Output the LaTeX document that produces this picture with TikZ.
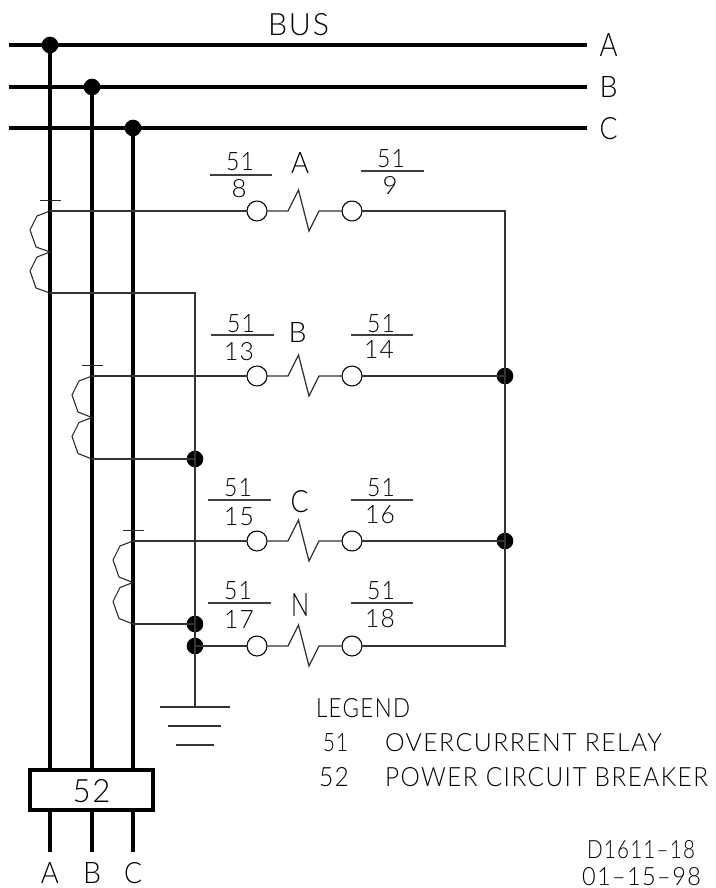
\documentclass[tikz,border=0pt]{standalone}
\usepackage{fontspec}
\usepackage{graphicx}
\newfontfamily\cadfont[LetterSpace=6]{Lato Light}
\newdimen\pxu
\pxu=0.75pt
\newcommand{\tx}[3]{\resizebox{#1\pxu}{#2\pxu}{#3}}
\begin{document}
\begin{tikzpicture}[x=0.75pt,y=-0.75pt,
  every node/.style={inner sep=0pt,outer sep=0pt},
  heavy/.style={line width=3.7pt,black},
  thin wire/.style={line width=0.95pt,black!80},
  terminal/.style={circle,draw=black,line width=0.8pt,fill=white,minimum size=15pt},
  dotnode/.style={circle,fill=black,minimum size=12.5pt},
  lab/.style={font=\cadfont\fontsize{23}{23}\selectfont,text=black,anchor=base},
  labl/.style={lab,anchor=base west},
  fracbar/.style={line width=0.85pt,black!75}]
\useasboundingbox (0,0) rectangle (715,888);
% bus bars
\foreach \n/\y/\x in {A/45/50,B/87/92,C/128/133}{
  \coordinate (bus\n w) at (9,\y);
  \coordinate (bus\n e) at (587,\y);
  \coordinate (drop\n) at (\x,852);
  \coordinate (top\n) at (\x,769);
  \coordinate (bot\n) at (\x,811);
  \node[dotnode] (tap\n) at (\x,\y) {};
  \draw[heavy] (bus\n w) -- (bus\n e);
  \draw[heavy] (tap\n.center) -- (top\n);
  \draw[heavy] (bot\n) -- (drop\n);
  \node[lab] at (\x,883) {\tx{18}{21}{\n}};
}
\node[lab] at (608.5,57) {\tx{18}{23}{A}};
\node[lab] at (608.5,98) {\tx{18}{21}{B}};
\node[lab] at (608.5,140) {\tx{18}{22}{C}};
\node[lab] at (298.5,36) {\tx{61}{22}{BUS}};
% breaker
\node[draw=black,line width=2.9pt,fill=white,minimum width=92pt,minimum height=30.5pt] (brk) at (91.5,790) {};
\node[lab] at (91.5,802) {\tx{38}{23}{52}};
% relay rows
\newcommand{\relayrow}[3]{% name, y, x of left
  \coordinate (l#1) at (#3,#2);
  \node[terminal] (t#1) at (257,#2) {};
  \node[terminal] (u#1) at (352,#2) {};
  \draw[thin wire] (t#1.east) -- (288,#2) -- (298.5,#2-21) -- (309,#2+20) -- (319,#2) -- (u#1.west);
}
\relayrow{a}{211}{50}
\relayrow{b}{376}{92}
\relayrow{c}{541}{133}
\relayrow{n}{646}{195}
% current transformers
\newcommand{\ctcoil}[4]{% x, top y, bottom y, name
  \coordinate (ctt#4) at (#1,#2);
  \coordinate (ctm#4) at (#1,{(#2+#3)/2});
  \coordinate (ctb#4) at (#1,#3);
  \draw[line width=0.8pt,black!85] (ctt#4) -- ++(-13,5) -- ++(-7,14) -- ++(6,17) -- (ctm#4) -- ++(-13,5) -- ++(-7,14) -- ++(6,17) -- (ctb#4);
  \draw[line width=0.8pt,black!85] (#1-10.5,#2-10.5) -- (#1+10.5,#2-10.5);
}
\ctcoil{50}{211}{293}{a}
\ctcoil{92}{376}{459}{b}
\ctcoil{133}{541}{624}{c}
% secondary wiring
\coordinate (neutTop) at (195,293);
\coordinate (gnd) at (195,707);
\coordinate (retTop) at (505,211);
\coordinate (retBot) at (505,646);
\node[dotnode] (jb) at (195,459) {};
\node[dotnode] (jc) at (195,624) {};
\node[dotnode] (jn) at (195,646) {};
\node[dotnode] (r1) at (505,376) {};
\node[dotnode] (r2) at (505,541) {};
\draw[thin wire] (ctta) -- (ta.west);
\draw[thin wire] (cttb) -- (tb.west);
\draw[thin wire] (cttc) -- (tc.west);
\draw[thin wire] (jn.center) -- (tn.west);
\draw[thin wire] (ctba) -- (neutTop) -- (gnd);
\draw[thin wire] (ctbb) -- (jb.center);
\draw[thin wire] (ctbc) -- (jc.center);
\draw[thin wire] (ua.east) -- (retTop) -- (retBot) -- (un.east);
\draw[thin wire] (ub.east) -- (r1.center);
\draw[thin wire] (uc.east) -- (r2.center);
% ground
\draw[thin wire] (160,707) -- (230,707);
\draw[thin wire] (168,726) -- (221,726);
\draw[thin wire] (176,745) -- (214,745);
% relay labels
\newcommand{\frlab}[8]{% xleft, xright, ybar, top cx, top base, bottom cx, bottom base, bottom text
  \draw[fracbar] (#1,#3) -- (#2,#3);
  \node[lab] at (#4,#5) {\tx{28}{18}{51}};
  \node[lab] at (#6,#7) {\tx{\ifnum#8<10 15\else 30\fi}{18}{#8}};
}
\frlab{210}{272}{175}{240}{171}{239}{197}{8}
\frlab{361}{424}{171}{391}{167}{390}{194}{9}
\frlab{211}{274}{335}{241}{332}{239}{360}{13}
\frlab{351}{413}{335}{381}{332}{379}{358}{14}
\frlab{208}{271}{500}{238}{496}{239}{525}{15}
\frlab{351}{413}{500}{381}{496}{380}{523}{16}
\frlab{208}{271}{603}{238}{599}{239}{628}{17}
\frlab{351}{413}{603}{381}{599}{380}{627}{18}
\node[lab] at (300,174) {\tx{18}{21}{A}};
\node[lab] at (297.5,342) {\tx{18}{20}{B}};
\node[lab] at (299.5,512) {\tx{18}{22}{C}};
\node[lab] at (300,616) {\tx{18}{23}{N}};
% legend
\node[labl] at (316,717) {\tx{94}{19}{LEGEND}};
\node[labl] at (323,751) {\tx{25}{18}{51}};
\node[labl] at (385,751) {\tx{277}{18}{OVERCURRENT RELAY}};
\node[labl] at (319,786) {\tx{30}{19}{52}};
\node[labl] at (385,786) {\tx{323}{19}{POWER CIRCUIT BREAKER}};
\node[labl] at (587,858) {\tx{108}{18}{D1611–18}};
\node[labl] at (582,885) {\tx{119}{18}{01–15–98}};
\end{tikzpicture}
\end{document}
